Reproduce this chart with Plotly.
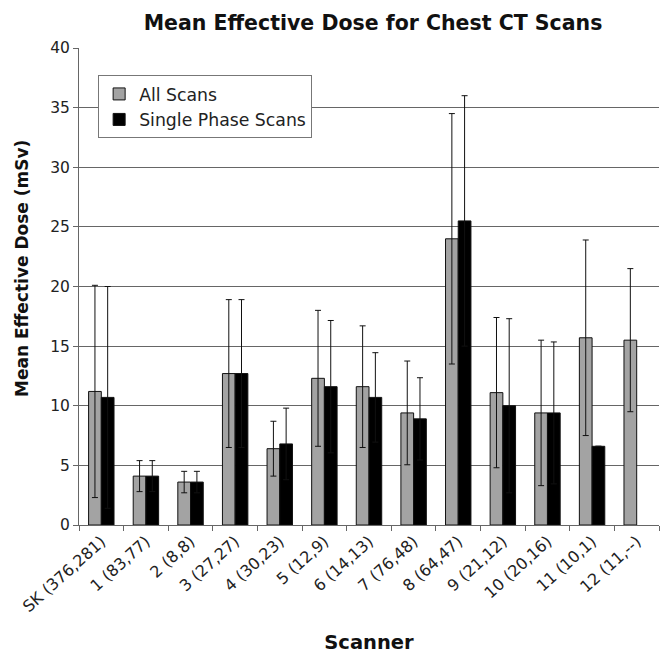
import plotly.graph_objects as go

categories = ["SK (376,281)", "1 (83,77)", "2 (8,8)", "3 (27,27)", "4 (30,23)", "5 (12,9)",
              "6 (14,13)", "7 (76,48)", "8 (64,47)", "9 (21,12)", "10 (20,16)", "11 (10,1)", "12 (11,--)"]
all_scans = [11.2, 4.1, 3.6, 12.7, 6.4, 12.3, 11.6, 9.4, 24.0, 11.1, 9.4, 15.7, 15.5]
all_err = [8.9, 1.3, 0.9, 6.2, 2.3, 5.7, 5.1, 4.35, 10.5, 6.3, 6.1, 8.2, 6.0]
single = [10.7, 4.1, 3.6, 12.7, 6.8, 11.6, 10.7, 8.9, 25.5, 10.0, 9.4, 6.6, None]
single_err = [9.3, 1.3, 0.9, 6.2, 3.0, 5.55, 3.75, 3.45, 10.5, 7.3, 5.95, 0, 0]
yticks = [0, 5, 10, 15, 20, 25, 30, 35, 40]

FONT = "DejaVu Sans, Verdana, sans-serif"

fig = go.Figure()
fig.add_trace(go.Bar(
    x=categories, y=all_scans, name="All Scans",
    marker=dict(color="#a3a3a3", line=dict(color="#111", width=1)),
    error_y=dict(type="data", array=all_err, color="#111", thickness=1, width=3),
))
fig.add_trace(go.Bar(
    x=categories, y=single, name="Single Phase Scans",
    marker=dict(color="#000000", line=dict(color="#111", width=1)),
    error_y=dict(type="data", array=single_err, color="#111", thickness=1, width=3),
))

fig.update_layout(
    width=660, height=656,
    margin=dict(l=79, r=1, t=48, b=131),
    paper_bgcolor="white", plot_bgcolor="white",
    font=dict(family=FONT, color="#222", size=15),
    barmode="group", bargap=0.43, bargroupgap=0,
    title=dict(text="<b>Mean Effective Dose for Chest CT Scans</b>", x=373 / 660, xanchor="center",
               y=1 - 23 / 656, yanchor="middle", font=dict(size=20.5, color="#111", family=FONT)),
    legend=dict(x=0.033, y=0.943, xanchor="left", yanchor="top",
                bgcolor="white", bordercolor="#777", borderwidth=1,
                font=dict(size=17.3, color="#222"), tracegroupgap=0),
    showlegend=True,
    annotations=[dict(text="<b>Mean Effective Dose (mSv)</b>", xref="paper", yref="paper",
                      x=-57 / 580, y=(525 - 269) / 477, xanchor="center", yanchor="middle",
                      textangle=-90, showarrow=False, font=dict(size=17, color="#111", family=FONT))],
)
fig.update_yaxes(
    range=[0, 40], tickvals=yticks, showgrid=True, gridcolor="#666", gridwidth=1,
    showline=True, linecolor="#666", linewidth=1, ticks="outside", ticklen=5, tickcolor="#666",
    tickfont=dict(size=15.5, color="#222"),
    zeroline=False,
)
fig.update_xaxes(
    showline=True, linecolor="#666", linewidth=1, ticks="outside", ticklen=5, tickcolor="#666",
    tickson="boundaries", tickangle=-42, tickfont=dict(size=16, color="#222"),
    title=dict(text="<b>Scanner</b>", font=dict(size=19.5, color="#111"), standoff=20),
)

fig.write_html("out.html")
